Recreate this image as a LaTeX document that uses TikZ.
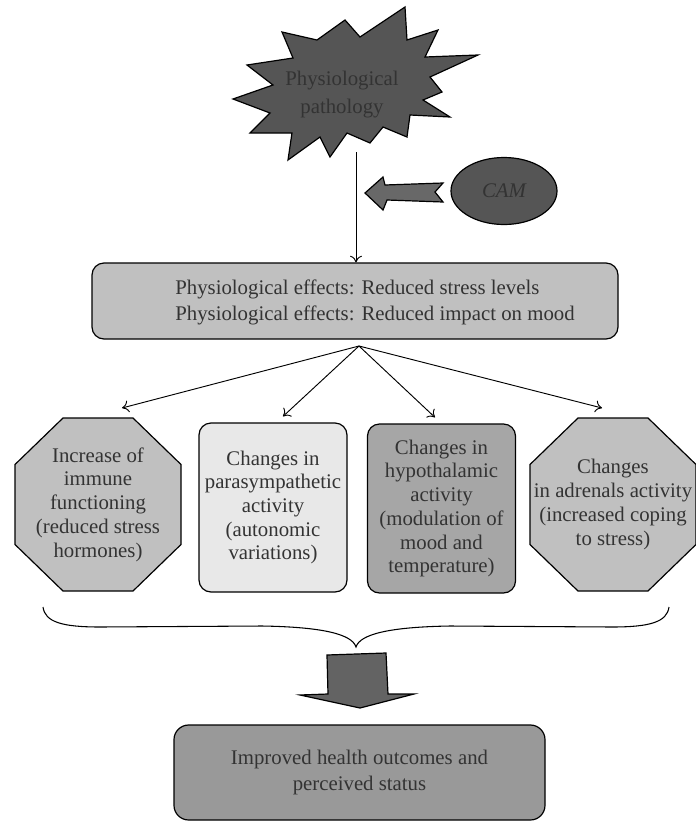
\documentclass[tikz,border=0pt]{standalone}
\usepackage{xcolor}
\usepackage{fontspec}
\setmainfont{Liberation Serif}
\usepackage{tikz}
\usetikzlibrary{positioning, shapes, calc, arrows.meta}
\definecolor{burstgray}{HTML}{555555}
\definecolor{arrowgray}{HTML}{686868}
\definecolor{panelgray}{HTML}{C0C0C0}
\definecolor{palegray}{HTML}{E8E8E8}
\definecolor{midgray}{HTML}{A6A6A6}
\definecolor{outcomegray}{HTML}{999999}
\definecolor{inkgray}{HTML}{333333}

\newcommand{\octagon}[1]{\draw[octfill] ($(#1)+(-35,-86.5)$) -- ($(#1)+(35,-86.5)$) -- ($(#1)+(83,-40)$) -- ($(#1)+(83,40)$) -- ($(#1)+(35,86.5)$) -- ($(#1)+(-35,86.5)$) -- ($(#1)+(-83,40)$) -- ($(#1)+(-83,-40)$) -- cycle;}

\begin{document}
\begin{tikzpicture}[x=0.75pt, y=-0.75pt, line width=0.9pt,
	every node/.style={text=inkgray, font=\fontsize{15.6}{17.8}\selectfont, align=center},
	roundbox/.style={draw=black, rounded corners=9pt, inner sep=1pt},
	octfill/.style={draw=black, fill=panelgray, line join=miter},
	blockarrow/.style={draw=black, fill=arrowgray, line join=miter},
	thinarrow/.style={-{To[length=5pt, width=9pt]}, line width=0.7pt}]
				\useasboundingbox (0,0) rectangle (696,822);
				\pgfmathsetmacro{\boxh}{126.75}
				\pgfmathsetmacro{\boxw}{111}
				
				\draw[draw=black, fill=burstgray, line join=miter] (405,7) -- (407,40) -- (438,30) -- (425,57) -- (478,55) -- (430,77) -- (442,92) -- (423,100) -- (450,117) -- (410,115) -- (407,137) -- (383,127) -- (370,143) -- (347,133) -- (330,157) -- (320,137) -- (288,160) -- (292,133) -- (250,133) -- (270,113) -- (233,99) -- (273,85) -- (247,65) -- (293,58) -- (282,32) -- (317,40) -- (345,20) -- (360,37) -- cycle;
				\node[font=\fontsize{15.6}{21}\selectfont] (pathology) at (342,95) {Physiological\\pathology};
				\coordinate (burstfoot) at (356,152);
				
				\node[draw=black, fill=burstgray, ellipse, minimum width=79.5pt, minimum height=50.25pt, inner sep=0pt, font=\fontsize{15.6}{17.8}\selectfont\itshape] (cam) at (504,191) {CAM};
				\draw[blockarrow] (365,193) -- (383,177) -- (385,185) -- (443,183) -- (435,192) -- (443,202) -- (387,200) -- (383,210) -- cycle;
				
				\node[roundbox, fill=panelgray, minimum width=394.5pt, minimum height=57pt] (effects) at (355,301) {};
				\node[align=left, font=\fontsize{15.6}{19.5}\selectfont] (effectstext) at (375,302) {Physiological effects: Reduced stress levels\\Physiological effects: Reduced impact on mood};
				\draw[thinarrow] (burstfoot) -- (burstfoot |- effects.north);
				
				\coordinate (immune) at (98,504.5);
				\octagon{immune}
				\node (immunetext) at (immune) {Increase of\\immune\\functioning\\(reduced stress\\hormones)};
				
				\node[roundbox, fill=palegray, minimum width=\boxw pt, minimum height=\boxh pt] (parasym) at (273,507.5) {Changes in\\parasympathetic\\activity\\(autonomic\\variations)};
				\node[roundbox, fill=midgray, minimum width=\boxw pt, minimum height=\boxh pt] (hypo) at (441.5,508.5) {Changes in\\hypothalamic\\activity\\(modulation of\\mood and\\temperature)};
				
				\coordinate (adrenal) at (613,504.5);
				\octagon{adrenal}
				\node (adrenaltext) at (adrenal) {Changes\\in adrenals activity\\(increased coping\\to stress)};
				
				\coordinate (fan) at (359,346);
				\draw[thinarrow] (fan) -- ($(immune)+(24,-96.5)$);
				\draw[thinarrow] (fan) -- ($(parasym.north)+(10,-6)$);
				\draw[thinarrow] (fan) -- ($(hypo.north)+(-6.5,-6)$);
				\draw[thinarrow] (fan) -- ($(adrenal)+(-11,-96.5)$);
				
				\draw[line width=0.8pt] (43,607) .. controls (45,622) and (62,627) .. (100,627) -- (262,626) .. controls (322,627) and (352,634) .. (356,647) .. controls (360,634) and (390,627) .. (450,626) -- (612,627) .. controls (650,627) and (667,622) .. (669,607);
				
				\draw[blockarrow, fill=arrowgray!95!black] (327,655) -- (386,653) -- (388,694) -- (414,694) -- (360,708) -- (300,695) -- (328,694) -- cycle;
				
				\node[roundbox, fill=outcomegray, rounded corners=11pt, minimum width=278.25pt, minimum height=71.25pt, font=\fontsize{15.6}{20}\selectfont] (outcome) at (359.5,772.5) {Improved health outcomes and\\perceived status};
\end{tikzpicture}
\end{document}
